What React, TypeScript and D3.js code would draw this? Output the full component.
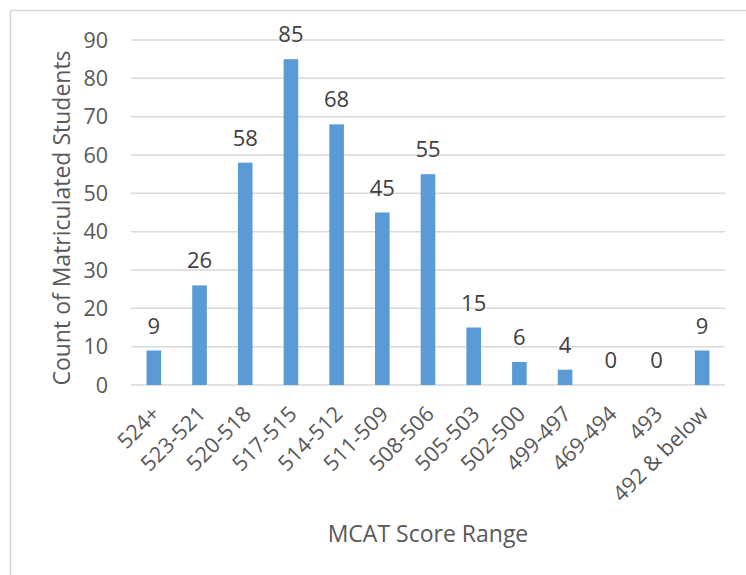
import { scaleBand, scaleLinear } from "d3";

const categories = [
    "524+", "523-521", "520-518", "517-515", "514-512", "511-509", "508-506",
    "505-503", "502-500", "499-497", "469-494", "493", "492 & below"
];
const counts = [9, 26, 58, 85, 68, 45, 55, 15, 6, 4, 0, 0, 9];
const yTicks = [0, 10, 20, 30, 40, 50, 60, 70, 80, 90];

const FONT = "'Open Sans', sans-serif";

export default function App() {
    const W = 746;
    const H = 575;
    const plot = { left: 131, right: 725, top: 40, bottom: 385 };

    const x = scaleBand()
        .domain(categories)
        .range([plot.left, plot.right])
        .paddingInner(0.68)
        .paddingOuter(0.34);
    const y = scaleLinear().domain([0, 90]).range([plot.bottom, plot.top]);

    return (
        <svg
            width={W}
            height={H}
            style={{ position: "absolute", left: 0, top: 0, background: "#fff" }}
            fontFamily={FONT}
        >
            {/* chart border, only left/top visible in the crop */}
            <path d={`M10.5,${H} V10.5 H${W}`} fill="none" stroke="#d9d9d9" strokeWidth={1.5} />

            {yTicks.map((t) => (
                <g key={`tick-${t}`}>
                    <line
                        x1={plot.left}
                        x2={plot.right}
                        y1={y(t)}
                        y2={y(t)}
                        stroke="#d9d9d9"
                        strokeWidth={1.5}
                    />
                    <text
                        x={108}
                        y={y(t)}
                        dy="0.36em"
                        textAnchor="end"
                        fontSize={21.5}
                        fill="#595959"
                    >
                        {t}
                    </text>
                </g>
            ))}

            {categories.map((c, i) => {
                const v = counts[i];
                const cx = (x(c) ?? 0) + x.bandwidth() / 2;
                return (
                    <g key={`bar-${c}`}>
                        {v > 0 && (
                            <rect
                                x={x(c)}
                                y={y(v)}
                                width={x.bandwidth()}
                                height={plot.bottom - y(v)}
                                fill="#5b9bd5"
                            />
                        )}
                        <text
                            x={cx}
                            y={y(v) - 17}
                            textAnchor="middle"
                            fontSize={22}
                            fill="#404040"
                        >
                            {v}
                        </text>
                        <text
                            transform={`translate(${cx + 2}, 410) rotate(-45)`}
                            textAnchor="end"
                            dy="0.35em"
                            fontSize={21.5}
                            fill="#595959"
                        >
                            {c}
                        </text>
                    </g>
                );
            })}

            <text
                transform={`translate(70, 218) rotate(-90)`}
                textAnchor="middle"
                fontSize={23}
                fill="#595959"
            >
                Count of Matriculated Students
            </text>
            <text x={428} y={542} textAnchor="middle" fontSize={23} fill="#595959">
                MCAT Score Range
            </text>
        </svg>
    );
}
